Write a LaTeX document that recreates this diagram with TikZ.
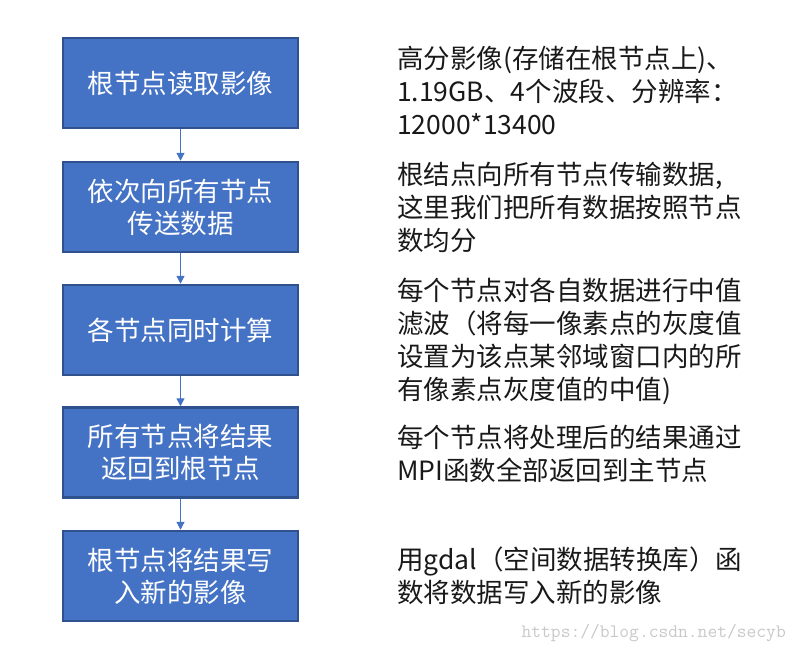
\documentclass[tikz,border=0pt]{standalone}
\usepackage{fontspec}
\setmainfont{Noto Sans CJK SC}
\usetikzlibrary{arrows.meta}
\definecolor{boxfill}{HTML}{4472C4}
\definecolor{boxedge}{HTML}{2F528F}
\definecolor{mark}{HTML}{C8C8C8}
\tikzstyle{stepbox} = [rectangle, minimum width=235pt, minimum height=90pt, line width=2.5pt, draw=boxedge, fill=boxfill, text=white, align=center, font=\fontsize{26.5}{32}\selectfont]
\tikzstyle{note} = [anchor=west, align=left, inner sep=0, text=black!90, font=\fontsize{26.5}{33}\selectfont]
\tikzstyle{arrow} = [boxfill, line width=1.2pt, -{Triangle[width=8pt,length=8pt]}]

\begin{document}
\begin{tikzpicture}[x=1pt,y=-1pt]
\useasboundingbox (0,0) rectangle (795,654);

% flow of steps
\node[stepbox] (b1) at (180.5,83) {根节点读取影像};
\node[stepbox] (b2) at (180.5,207) {依次向所有节点\\传送数据};
\node[stepbox] (b3) at (180.5,330) {各节点同时计算};
\node[stepbox] (b4) at (180.5,452.5) {所有节点将结果\\返回到根节点};
\node[stepbox] (b5) at (180.5,576) {根节点将结果写\\入新的影像};

\foreach \a/\b in {b1/b2,b2/b3,b3/b4,b4/b5}
	\draw[arrow] (\a) -- (\b);

% notes on the right
\node[note] (n1) at (397,90) {高分影像(存储在根节点上)、\\1.19GB、4个波段、分辨率：\\12000*13400};
\node[note] (n2) at (397,207) {根结点向所有节点传输数据,\\这里我们把所有数据按照节点\\数均分};
\node[note] (n3) at (397,341) {每个节点对各自数据进行中值\\滤波（将每一像素点的灰度值\\设置为该点某邻域窗口内的所\\有像素点灰度值的中值)};
\node[note] (n4) at (397,454) {每个节点将处理后的结果通过\\MPI函数全部返回到主节点};
\node[note] (n5) at (397,576) {用gdal（空间数据转换库）函\\数将数据写入新的影像};

\node[anchor=east, text=mark, inner sep=0, font=\ttfamily\fontsize{19}{19}\selectfont] (wm) at (786,633) {https://blog.csdn.net/secyb};
\end{tikzpicture}
\end{document}
